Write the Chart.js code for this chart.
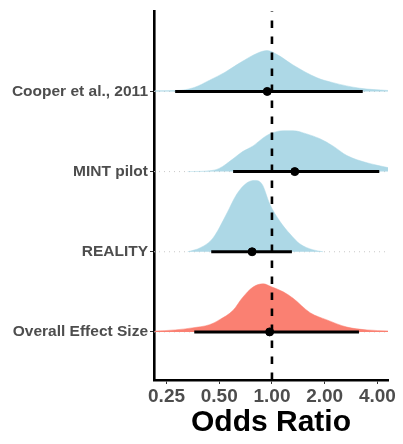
<!DOCTYPE html>
<html>
<head>
<meta charset="utf-8">
<script src="https://cdn.jsdelivr.net/npm/chart.js@4"></script>
<style>
  html, body { margin: 0; padding: 0; background: #fff; }
</style>
</head>
<body>
<canvas id="forestChart" width="403" height="444"></canvas>
<script>
// Rows, bottom to top (y = 1..4)
const studies = ['Overall Effect Size', 'REALITY', 'MINT pilot', 'Cooper et al., 2011'];

// Point estimate and interval (odds ratio), same order as studies
const estimates = [0.97, 0.77, 1.35, 0.94];
const lower = [0.36, 0.45, 0.60, 0.28];
const upper = [3.14, 1.30, 4.10, 3.30];

const xTicks = [0.25, 0.5, 1, 2, 4];

// Posterior densities: odds ratio grid + height (row units)
const overallX = [0.214, 0.28, 0.35, 0.44, 0.50, 0.60, 0.68, 0.78, 0.89, 1.00, 1.16, 1.32, 1.65, 2.06, 2.68, 3.49, 4.6];
const overallH = [0.01, 0.025, 0.05, 0.09, 0.15, 0.27, 0.43, 0.56, 0.60, 0.56, 0.50, 0.42, 0.24, 0.15, 0.06, 0.025, 0.012];

const realityX = [0.33, 0.39, 0.46, 0.55, 0.63, 0.72, 0.80, 0.88, 0.97, 1.11, 1.27, 1.44, 1.71, 1.96];
const realityH = [0, 0.05, 0.17, 0.47, 0.72, 0.86, 0.89, 0.84, 0.60, 0.38, 0.22, 0.10, 0.025, 0];

const mintX = [0.33, 0.44, 0.50, 0.60, 0.68, 0.78, 0.89, 0.97, 1.16, 1.32, 1.58, 1.88, 2.23, 2.68, 3.49, 4.6];
const mintH = [0, 0.01, 0.04, 0.16, 0.25, 0.32, 0.42, 0.47, 0.51, 0.51, 0.47, 0.41, 0.32, 0.20, 0.11, 0.05];

const cooperX = [0.214, 0.287, 0.36, 0.44, 0.54, 0.66, 0.83, 0.94, 1.07, 1.32, 1.81, 2.23, 3.18, 4.6];
const cooperH = [0.01, 0.012, 0.05, 0.14, 0.24, 0.36, 0.48, 0.51, 0.46, 0.33, 0.17, 0.11, 0.04, 0.012];

const densX = [overallX, realityX, mintX, cooperX];
const densH = [overallH, realityH, mintH, cooperH];
const fills = ['#FA8072', '#ADD8E6', '#ADD8E6', '#ADD8E6'];

const X_MIN = 0.212, X_MAX = 4.6;

Chart.defaults.font.family = "'Liberation Sans', Arial, Helvetica, sans-serif";

let datasets = [];

// dotted baseline for each row
studies.forEach((s, i) => {
    datasets.push({
        type: 'line',
        data: [{x: X_MIN, y: i + 1}, {x: X_MAX, y: i + 1}],
        borderColor: '#C8C8C8',
        borderWidth: 1,
        borderDash: [1, 4],
        pointRadius: 0,
        order: 5
    });
});

// density ridges
studies.forEach((s, i) => {
    datasets.push({
        type: 'line',
        data: densX[i].map((x, j) => ({x: x, y: i + 1 + densH[i][j]})),
        backgroundColor: fills[i],
        borderColor: fills[i],
        borderWidth: 0.5,
        fill: {value: i + 1},
        cubicInterpolationMode: 'monotone',
        pointRadius: 0,
        order: 4
    });
});

// reference line at OR = 1
datasets.push({
    type: 'line',
    data: [{x: 1, y: 0.4}, {x: 1, y: 5}],
    borderColor: '#000',
    borderWidth: 2.6,
    borderDash: [7.5, 8.5],
    pointRadius: 0,
    order: 3
});

// intervals
studies.forEach((s, i) => {
    datasets.push({
        type: 'line',
        data: [{x: lower[i], y: i + 1}, {x: upper[i], y: i + 1}],
        borderColor: '#000',
        borderWidth: 3,
        pointRadius: 0,
        order: 2
    });
});

// point estimates
datasets.push({
    type: 'scatter',
    data: estimates.map((v, i) => ({x: v, y: i + 1})),
    backgroundColor: '#000',
    borderColor: '#000',
    pointRadius: 4,
    order: 1
});

new Chart(document.getElementById('forestChart').getContext('2d'), {
    type: 'scatter',
    data: {datasets: datasets},
    options: {
        responsive: false,
        animation: false,
        layout: {
            padding: {top: 9, right: 15, left: 0, bottom: 0}
        },
        plugins: {
            legend: {display: false},
            tooltip: {enabled: false}
        },
        scales: {
            x: {
                type: 'logarithmic',
                min: X_MIN,
                max: X_MAX,
                afterBuildTicks: (scale) => {
                    scale.ticks = xTicks.map(v => ({value: v}));
                },
                afterFit: (scale) => {
                    scale.height = 64;
                },
                ticks: {
                    autoSkip: false,
                    maxRotation: 0,
                    padding: 1,
                    color: '#4D4D4D',
                    font: {size: 19, weight: 'bold'},
                    callback: (v) => Number(v).toFixed(2)
                },
                grid: {
                    drawOnChartArea: false,
                    drawTicks: true,
                    tickLength: 4,
                    color: '#333'
                },
                border: {display: true, color: '#000', width: 2.6},
                title: {
                    display: true,
                    text: 'Odds Ratio',
                    color: '#000',
                    font: {size: 30, weight: 'bold'},
                    padding: {top: 0, bottom: 3}
                }
            },
            y: {
                type: 'linear',
                min: 0.4,
                max: 5,
                afterBuildTicks: (scale) => {
                    scale.ticks = [1, 2, 3, 4].map(v => ({value: v}));
                },
                afterFit: (scale) => {
                    scale.width = 154;
                },
                ticks: {
                    autoSkip: false,
                    padding: 2,
                    color: '#4D4D4D',
                    font: {size: 15.5, weight: 'bold'},
                    callback: (v) => studies[v - 1]
                },
                grid: {
                    drawOnChartArea: false,
                    drawTicks: true,
                    tickLength: 4,
                    color: '#333'
                },
                border: {display: true, color: '#000', width: 2.6}
            }
        }
    }
});
</script>
</body>
</html>
